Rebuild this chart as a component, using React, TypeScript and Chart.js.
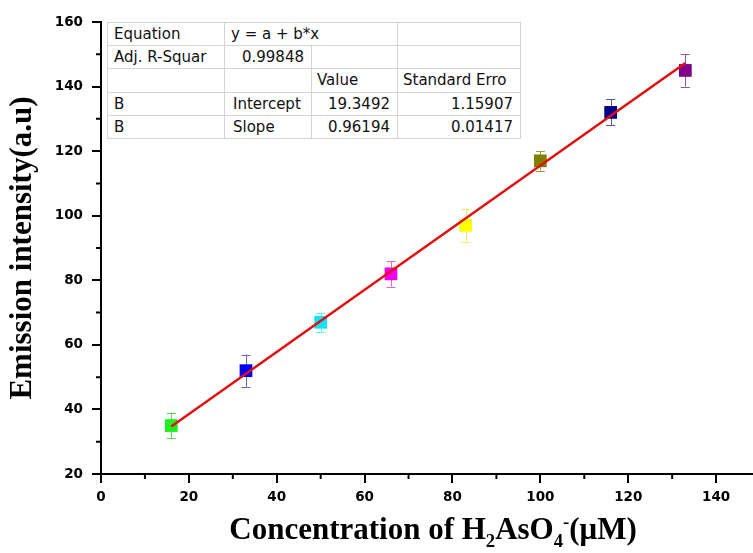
import React, { useEffect, useRef } from 'react';
import { Chart, registerables } from 'chart.js';

Chart.register(...registerables);

const concentration = [16, 33, 50, 66, 83, 100, 116, 133];
const intensity = [35, 52, 67, 82, 97, 117, 132, 145];
const intensityErr = [4, 5, 3, 4, 5, 3, 4, 5];
const pointColors = ['#22ee22', '#0000f0', '#10e4f4', '#f000f0', '#ffff00', '#808000', '#000088', '#800088'];
const errColors = ['#55dd55', '#6666cc', '#66eeee', '#dd66dd', '#eeee66', '#999944', '#555599', '#995599'];

const fitX = [16, 133];
const fitY = [34.7, 147.3];

const xMajorTicks = [0, 20, 40, 60, 80, 100, 120, 140];
const xMinorTicks = [10, 30, 50, 70, 90, 110, 130];
const yMajorTicks = [20, 40, 60, 80, 100, 120, 140, 160];
const yMinorTicks = [30, 50, 70, 90, 110, 130, 150];

const tableEquation = ['Equation', 'y = a + b*x'];
const tableAdjR = ['Adj. R-Squar', '0.99848'];
const tableHeader = ['', '', 'Value', 'Standard Erro'];
const tableIntercept = ['B', 'Intercept', '19.3492', '1.15907'];
const tableSlope = ['B', 'Slope', '0.96194', '0.01417'];

const SERIF = '"Liberation Serif", "Times New Roman", serif';
const SANS = '"DejaVu Sans", sans-serif';

const extrasPlugin = {
  id: 'extras',
  beforeDatasetsDraw(chart: any) {
    const ctx = chart.ctx;
    const xs = chart.scales.x;
    const ys = chart.scales.y;
    ctx.save();
    ctx.lineWidth = 1;
    for (let i = 0; i < concentration.length; i++) {
      const px = xs.getPixelForValue(concentration[i]);
      const top = ys.getPixelForValue(intensity[i] + intensityErr[i]);
      const bot = ys.getPixelForValue(intensity[i] - intensityErr[i]);
      ctx.strokeStyle = errColors[i];
      ctx.beginPath();
      ctx.moveTo(Math.round(px) + 0.5, top);
      ctx.lineTo(Math.round(px) + 0.5, bot);
      ctx.moveTo(px - 4.5, Math.round(top) + 0.5);
      ctx.lineTo(px + 4.5, Math.round(top) + 0.5);
      ctx.moveTo(px - 4.5, Math.round(bot) + 0.5);
      ctx.lineTo(px + 4.5, Math.round(bot) + 0.5);
      ctx.stroke();
    }
    ctx.restore();
  },
  afterDraw(chart: any) {
    const ctx = chart.ctx;
    const xs = chart.scales.x;
    const ys = chart.scales.y;
    const area = chart.chartArea;
    ctx.save();
    ctx.strokeStyle = '#000';
    ctx.lineWidth = 2;
    ctx.beginPath();
    for (const v of xMinorTicks) {
      const px = xs.getPixelForValue(v);
      ctx.moveTo(px, area.bottom);
      ctx.lineTo(px, area.bottom + 5);
    }
    for (const v of yMinorTicks) {
      const py = ys.getPixelForValue(v);
      ctx.moveTo(area.left, py);
      ctx.lineTo(area.left - 5, py);
    }
    ctx.stroke();
    ctx.restore();
  },
};

const cellBase: React.CSSProperties = {
  border: '1px solid #d4d4d4',
  padding: '0 6px',
  height: 22,
  whiteSpace: 'nowrap',
  overflow: 'hidden',
};

export default function App() {
  const canvasRef = useRef<HTMLCanvasElement>(null);

  useEffect(() => {
    const canvas = canvasRef.current;
    if (!canvas) return;
    const chart = new Chart(canvas, {
      type: 'scatter',
      data: {
        datasets: [
          {
            type: 'line',
            label: 'Fit',
            data: fitX.map((x, i) => ({ x, y: fitY[i] })),
            borderColor: '#e01010',
            borderWidth: 2.5,
            pointRadius: 0,
            fill: false,
            order: 0,
          } as any,
          {
            type: 'scatter',
            label: 'Data',
            data: concentration.map((x, i) => ({ x, y: intensity[i] })),
            pointStyle: 'rect',
            pointRadius: 9,
            pointBackgroundColor: pointColors,
            pointBorderColor: pointColors,
            pointBorderWidth: 0,
            order: 1,
          } as any,
        ],
      },
      options: {
        responsive: false,
        animation: false,
        devicePixelRatio: 1,
        layout: { autoPadding: false, padding: { top: 22, right: 0, left: 0, bottom: 0 } },
        plugins: {
          legend: { display: false },
          tooltip: { enabled: false },
        },
        scales: {
          x: {
            type: 'linear',
            min: 0,
            max: 148.4,
            afterBuildTicks: (scale: any) => {
              scale.ticks = xMajorTicks.map((v) => ({ value: v }));
            },
            afterFit: (scale: any) => {
              scale.height = 79;
              scale.paddingRight = 0;
              scale.paddingLeft = 0;
            },
            grid: {
              display: true,
              drawOnChartArea: false,
              drawTicks: true,
              tickLength: 9,
              color: '#000',
              lineWidth: 2,
            },
            border: { display: true, color: '#000', width: 2 },
            ticks: {
              color: '#000',
              padding: 6,
              maxRotation: 0,
              font: { family: SANS, size: 13.5, weight: 'bold' },
            },
            title: { display: false },
          },
          y: {
            type: 'linear',
            min: 20,
            max: 160,
            afterBuildTicks: (scale: any) => {
              scale.ticks = yMajorTicks.map((v) => ({ value: v }));
            },
            afterFit: (scale: any) => {
              scale.width = 101;
            },
            grid: {
              display: true,
              drawOnChartArea: false,
              drawTicks: true,
              tickLength: 9,
              color: '#000',
              lineWidth: 2,
            },
            border: { display: true, color: '#000', width: 2 },
            ticks: {
              color: '#000',
              padding: 9,
              font: { family: SANS, size: 13.5, weight: 'bold' },
            },
            title: {
              display: true,
              text: 'Emission intensity(a.u)',
              color: '#000',
              font: { family: SERIF, size: 31, weight: 'bold' },
              padding: { top: 4, bottom: 0 },
            },
          },
        },
      } as any,
      plugins: [extrasPlugin],
    });
    return () => chart.destroy();
  }, []);

  const numCell: React.CSSProperties = { ...cellBase, textAlign: 'right', paddingRight: 7 };
  const txtCell: React.CSSProperties = { ...cellBase, textAlign: 'left' };

  return (
    <div style={{ position: 'fixed', left: 0, top: 0, width: 753, height: 553, background: '#fff', overflow: 'hidden' }}>
      <canvas ref={canvasRef} width={753} height={553} style={{ display: 'block', width: 753, height: 553 }} />
      <table
        style={{
          position: 'absolute',
          left: 107,
          top: 22,
          width: 413,
          height: 117,
          borderCollapse: 'collapse',
          border: '1px solid #8a8a8a',
          background: '#fff',
          fontFamily: SANS,
          fontSize: 15,
          color: '#111',
          tableLayout: 'fixed',
          lineHeight: '20px',
        }}
      >
        <colgroup>
          <col style={{ width: 117 }} />
          <col style={{ width: 87 }} />
          <col style={{ width: 86 }} />
          <col style={{ width: 123 }} />
        </colgroup>
        <tbody>
          <tr>
            <td style={txtCell}>{tableEquation[0]}</td>
            <td style={txtCell} colSpan={2}>{tableEquation[1]}</td>
            <td style={txtCell}></td>
          </tr>
          <tr>
            <td style={txtCell}>{tableAdjR[0]}</td>
            <td style={numCell}>{tableAdjR[1]}</td>
            <td style={txtCell}></td>
            <td style={txtCell}></td>
          </tr>
          <tr>
            <td style={txtCell}>{tableHeader[0]}</td>
            <td style={txtCell}>{tableHeader[1]}</td>
            <td style={{ ...txtCell, paddingLeft: 5 }}>{tableHeader[2]}</td>
            <td style={{ ...txtCell, paddingLeft: 5 }}>{tableHeader[3]}</td>
          </tr>
          <tr>
            <td style={txtCell}>{tableIntercept[0]}</td>
            <td style={{ ...txtCell, paddingLeft: 8 }}>{tableIntercept[1]}</td>
            <td style={numCell}>{tableIntercept[2]}</td>
            <td style={numCell}>{tableIntercept[3]}</td>
          </tr>
          <tr>
            <td style={txtCell}>{tableSlope[0]}</td>
            <td style={{ ...txtCell, paddingLeft: 8 }}>{tableSlope[1]}</td>
            <td style={numCell}>{tableSlope[2]}</td>
            <td style={numCell}>{tableSlope[3]}</td>
          </tr>
        </tbody>
      </table>
      <div
        style={{
          position: 'absolute',
          left: 101,
          width: 652,
          top: 512,
          textAlign: 'center',
          fontFamily: SERIF,
          fontWeight: 'bold',
          fontSize: 31,
          lineHeight: '34px',
          color: '#000',
          whiteSpace: 'nowrap',
        }}
      >
        <span style={{ position: 'relative', left: 6 }}>
          Concentration of H
          <span style={{ fontSize: '0.6em', position: 'relative', top: '0.45em' }}>2</span>
          AsO
          <span style={{ fontSize: '0.6em', position: 'relative', top: '0.45em' }}>4</span>
          <span style={{ fontSize: '0.6em', position: 'relative', top: '-0.6em' }}>-</span>
          (μM)
        </span>
      </div>
    </div>
  );
}
